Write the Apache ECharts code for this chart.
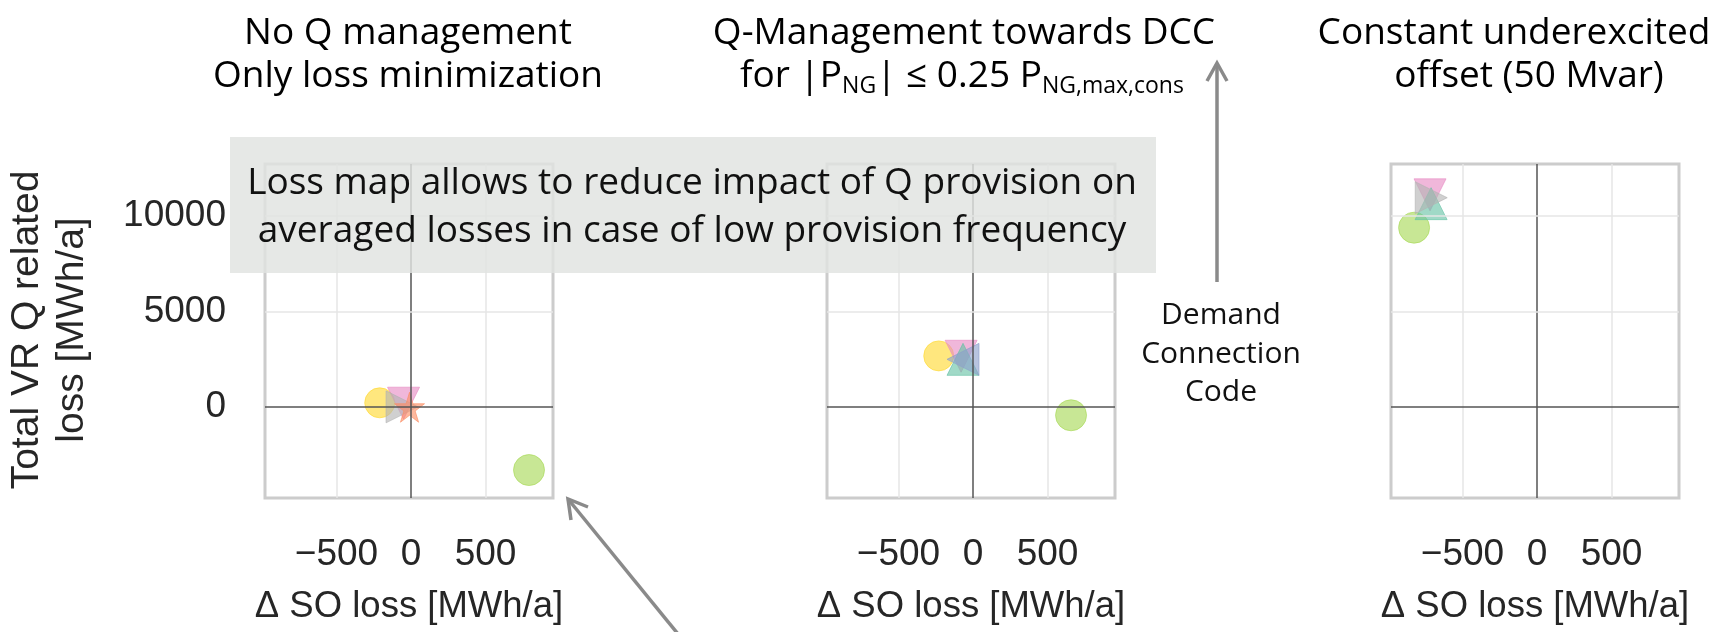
<!DOCTYPE html>
<html><head><meta charset="utf-8">
<script src="https://cdn.jsdelivr.net/npm/echarts@6/dist/echarts.min.js"></script>
<style>html,body{margin:0;padding:0;background:#fff}#c{width:1725px;height:632px}</style>
</head><body><div id="c"></div>
<script>
// ---------- data ----------
const panelTitleLine1 = ['No Q management', 'Q-Management towards DCC', 'Constant underexcited'];
const panelTitleLine2 = ['Only loss minimization', '{a|for |P}{b|NG}{a|| ≤ 0.25 P}{b|NG,max,cons}', 'offset (50 Mvar)'];
const xTicks = [-500, 0, 500];
const yTicks = [0, 5000, 10000];
const xAxisTitle = 'Δ SO loss [MWh/a]';
const yAxisTitle = 'Total VR Q related\nloss [MWh/a]';
const annotationLines = ['Loss map allows to reduce impact of Q provision on', 'averaged losses in case of low provision frequency'];
const dccLabel = 'Demand\nConnection\nCode';
// one [x, y] point per panel (null = not visible)
const yellowCircle = [[-210, 230], [-230, 2680], null];
const greenCircle  = [[792, -3280], [658, -420], [-825, 9375]];
const pinkTriDown  = [[-50, 210], [-80, 2660], [-718, 11090]];
const tealTriUp    = [null, [-67, 2500], [-711, 10630]];
const grayTriRight = [[-60, 20], null, [-710, 10940]];
const orangeStar   = [[-10, 0], null, null];
const blueTriLeft  = [null, [-67, 2500], null];

// ---------- layout / style ----------
const X_MIN = -980, X_MAX = 953, Y_MIN = -4740, Y_MAX = 12700;
const gridLefts = [265, 827, 1391];
const GRID_TOP = 164, GRID_W = 288, GRID_H = 334;
const TXT = '#262626';
const STAR = 'path://M50,0 L61,35 L98,35 L68,57 L79,91 L50,70 L21,91 L32,57 L2,35 L39,35 Z';
const markers = [
  {data: yellowCircle, color: '#ffd92f', symbol: 'circle', rot: 0, size: 30},
  {data: greenCircle,  color: '#a6d854', symbol: 'circle', rot: 0, size: 31},
  {data: pinkTriDown,  color: '#e78ac3', symbol: 'triangle', rot: 180, size: 32},
  {data: tealTriUp,    color: '#66c2a5', symbol: 'triangle', rot: 0, size: 32},
  {data: grayTriRight, color: '#b3b3b3', symbol: 'triangle', rot: -90, size: 32},
  {data: orangeStar,   color: '#fc8d62', symbol: STAR, rot: 0, size: 30},
  {data: blueTriLeft,  color: '#8da0cb', symbol: 'triangle', rot: 90, size: 32}
];
const fmt = v => String(v).replace('-', '\u2212');

const grids = [], xAxes = [], yAxes = [], series = [];
gridLefts.forEach((left, p) => {
  grids.push({left: left, top: GRID_TOP, width: GRID_W, height: GRID_H, show: true,
    borderColor: '#cccccc', borderWidth: 3, backgroundColor: '#fff'});
  xAxes.push({type: 'value', gridIndex: p, min: X_MIN, max: X_MAX,
    axisLine: {show: false}, axisTick: {show: false}, splitLine: {show: false},
    axisLabel: {customValues: xTicks, formatter: fmt, margin: 38, fontSize: 37, fontFamily: 'Liberation Sans', color: TXT},
    name: xAxisTitle, nameLocation: 'middle', nameGap: 90,
    nameTextStyle: {fontSize: 36.5, fontFamily: 'Liberation Sans', color: TXT}});
  yAxes.push({type: 'value', gridIndex: p, min: Y_MIN, max: Y_MAX,
    axisLine: {show: false}, axisTick: {show: false}, splitLine: {show: false},
    axisLabel: {show: p === 0, customValues: yTicks, formatter: fmt, margin: 39, fontSize: 37, fontFamily: 'Liberation Sans', color: TXT}});
  const light = {color: '#e6e6e6', width: 1.5, type: 'solid'};
  const dark = {color: '#555555', width: 1.5, type: 'solid'};
  const ml = [];
  xTicks.forEach(v => ml.push({xAxis: v, lineStyle: v === 0 ? dark : light}));
  yTicks.forEach(v => ml.push({yAxis: v, lineStyle: v === 0 ? dark : light}));
  series.push({type: 'scatter', xAxisIndex: p, yAxisIndex: p, data: [], z: 1, silent: true,
    markLine: {silent: true, symbol: 'none', label: {show: false}, animation: false, data: ml}});
  markers.forEach(m => {
    series.push({type: 'scatter', xAxisIndex: p, yAxisIndex: p,
      data: m.data[p] ? [m.data[p]] : [],
      symbol: m.symbol, symbolRotate: m.rot, symbolSize: m.size,
      itemStyle: {color: m.color, opacity: 0.62, borderColor: m.color, borderWidth: 1}});
  });
});

const titleCenters1 = [408, 964, 1514];
const titleCenters2 = [408, 962, 1529];
const graphic = [];
panelTitleLine1.forEach((t, i) => {
  graphic.push({type: 'text', z: 20, x: titleCenters1[i], y: 33, style: {text: t, textAlign: 'center', textVerticalAlign: 'middle',
    font: '37px "Open Sans"', fill: '#000'}});
  graphic.push({type: 'text', z: 20, x: titleCenters2[i], y: 76, style: {text: panelTitleLine2[i], textAlign: 'center', textVerticalAlign: 'middle',
    font: '37px "Open Sans"', fill: '#000',
    rich: {a: {fontSize: 37, fontFamily: 'Open Sans', lineHeight: 44, fill: '#000', color: '#000'},
           b: {fontSize: 23, fontFamily: 'Open Sans', lineHeight: 18, verticalAlign: 'bottom', fill: '#000', color: '#000'}}}});
});
graphic.push({type: 'text', z: 20, x: 50, y: 330, rotation: Math.PI / 2,
  style: {text: yAxisTitle, textAlign: 'center', textVerticalAlign: 'middle', font: '39px "Liberation Sans"', lineHeight: 45, fill: TXT}});
graphic.push({type: 'rect', z: 15, shape: {x: 230, y: 137, width: 926, height: 136}, style: {fill: 'rgba(225,227,225,0.82)'}});
annotationLines.forEach((t, i) => {
  graphic.push({type: 'text', z: 20, x: 692, y: 183 + i * 48, style: {text: t, textAlign: 'center', textVerticalAlign: 'middle',
    font: '37px "Open Sans"', fill: '#111'}});
});
const AR = '#8a8a8a';
graphic.push({type: 'polyline', z: 20, shape: {points: [[1217, 282], [1217, 63]]}, style: {stroke: AR, lineWidth: 3.5, fill: null}});
graphic.push({type: 'polyline', z: 20, shape: {points: [[1207, 81], [1217, 63], [1227, 81]]}, style: {stroke: AR, lineWidth: 3.5, fill: null}});
graphic.push({type: 'polyline', z: 20, shape: {points: [[678, 634], [568, 499]]}, style: {stroke: AR, lineWidth: 3.5, fill: null}});
graphic.push({type: 'polyline', z: 20, shape: {points: [[571, 520], [568, 499], [588, 507]]}, style: {stroke: AR, lineWidth: 3.5, fill: null}});
graphic.push({type: 'text', z: 20, x: 1221, y: 354, style: {text: dccLabel, textAlign: 'center', textVerticalAlign: 'middle',
  font: '30px "Open Sans"', lineHeight: 38.5, fill: '#111'}});

const chart = echarts.init(document.getElementById('c'), null, {renderer: 'canvas'});
chart.setOption({animation: false, backgroundColor: '#fff', grid: grids, xAxis: xAxes, yAxis: yAxes, series: series, graphic: graphic});
</script></body></html>
